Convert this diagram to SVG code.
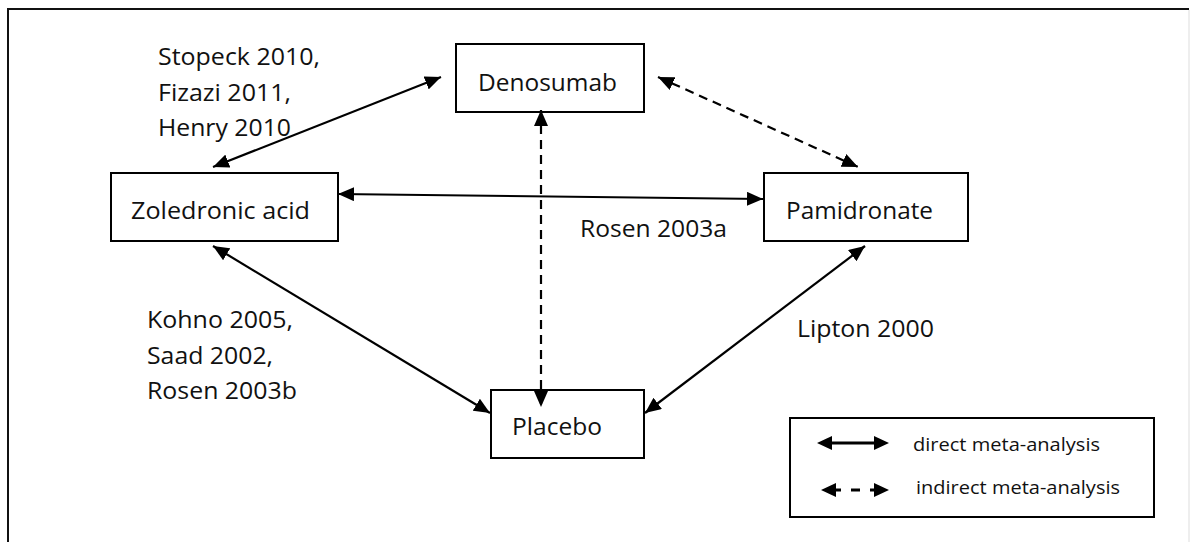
<svg xmlns="http://www.w3.org/2000/svg" width="1190" height="542" viewBox="0 0 1190 542">
<style>
.box{fill:#fff;stroke:#000;stroke-width:2}
.t{font-family:"Open Sans","Noto Sans","Liberation Sans",sans-serif;font-size:24px;fill:#111}
.lg{font-family:"Open Sans","Noto Sans","Liberation Sans",sans-serif;font-size:19px;fill:#111}
.c{fill:none;stroke:#000;stroke-width:2.2}
.d{stroke-dasharray:9 6}
</style>
<defs>
<marker id="ah" viewBox="0 0 16 14" refX="16" refY="7" markerWidth="16" markerHeight="14" markerUnits="userSpaceOnUse" orient="auto-start-reverse">
<path d="M0,0 L16,7 L0,14 z" fill="#000" stroke="none"/>
</marker>
</defs>
<rect width="1190" height="542" fill="#fff"/>
<g id="frame">
<line x1="8" y1="9" x2="1189" y2="9" stroke="#111" stroke-width="2"/>
<line x1="8" y1="8" x2="8" y2="542" stroke="#111" stroke-width="2"/>
<line x1="1189" y1="10" x2="1189" y2="542" stroke="#ddd" stroke-width="1"/>
</g>
<g id="denosumab">
<rect class="box" x="456" y="44" width="188" height="68"/>
<text class="t" x="478" y="91" textLength="139" lengthAdjust="spacingAndGlyphs">Denosumab</text>
</g>
<g id="zoledronic">
<rect class="box" x="111" y="173" width="227" height="68"/>
<text class="t" x="131" y="219" textLength="179" lengthAdjust="spacingAndGlyphs">Zoledronic acid</text>
</g>
<g id="pamidronate">
<rect class="box" x="764" y="173" width="204" height="68"/>
<text class="t" x="786" y="219" textLength="147" lengthAdjust="spacingAndGlyphs">Pamidronate</text>
</g>
<g id="placebo">
<rect class="box" x="491" y="390" width="153" height="68"/>
<text class="t" x="512" y="435" textLength="90" lengthAdjust="spacingAndGlyphs">Placebo</text>
</g>
<g id="connectors">
<line class="c" x1="213" y1="167" x2="441" y2="77" marker-start="url(#ah)" marker-end="url(#ah)"/>
<line class="c" x1="338" y1="194" x2="763" y2="199" marker-start="url(#ah)" marker-end="url(#ah)"/>
<line class="c" x1="213" y1="246" x2="490" y2="413" marker-start="url(#ah)" marker-end="url(#ah)"/>
<line class="c" x1="865" y1="246" x2="645" y2="413" marker-start="url(#ah)" marker-end="url(#ah)"/>
<line class="c d" x1="541" y1="110" x2="541" y2="407" marker-start="url(#ah)" marker-end="url(#ah)"/>
<line class="c d" x1="658" y1="77" x2="858" y2="167" marker-start="url(#ah)" marker-end="url(#ah)"/>
</g>
<g id="labels">
<text class="t" x="158" y="65" textLength="162" lengthAdjust="spacingAndGlyphs">Stopeck 2010,</text>
<text class="t" x="158" y="100.5" textLength="133" lengthAdjust="spacingAndGlyphs">Fizazi 2011,</text>
<text class="t" x="158" y="136" textLength="133" lengthAdjust="spacingAndGlyphs">Henry 2010</text>
<text class="t" x="580" y="237" textLength="147" lengthAdjust="spacingAndGlyphs">Rosen 2003a</text>
<text class="t" x="147" y="328" textLength="146" lengthAdjust="spacingAndGlyphs">Kohno 2005,</text>
<text class="t" x="147" y="364" textLength="126" lengthAdjust="spacingAndGlyphs">Saad 2002,</text>
<text class="t" x="147" y="399" textLength="150" lengthAdjust="spacingAndGlyphs">Rosen 2003b</text>
<text class="t" x="797" y="337" textLength="137" lengthAdjust="spacingAndGlyphs">Lipton 2000</text>
</g>
<g id="legend">
<rect x="790" y="418" width="364" height="99" fill="#fff" stroke="#000" stroke-width="2"/>
<line x1="831" y1="443" x2="875" y2="443" stroke="#000" stroke-width="3"/>
<polygon points="817,443 832,436 832,450" fill="#000"/>
<polygon points="889,443 874,436 874,450" fill="#000"/>
<text class="lg" x="913" y="451" textLength="187" lengthAdjust="spacingAndGlyphs">direct meta-analysis</text>
<polygon points="821,490 836,483 836,497" fill="#000"/>
<line x1="835" y1="490" x2="841" y2="490" stroke="#000" stroke-width="3"/>
<line x1="851" y1="490" x2="860" y2="490" stroke="#000" stroke-width="3"/>
<line x1="870" y1="490" x2="876" y2="490" stroke="#000" stroke-width="3"/>
<polygon points="889,490 874,483 874,497" fill="#000"/>
<text class="lg" x="916" y="494" textLength="204" lengthAdjust="spacingAndGlyphs">indirect meta-analysis</text>
</g>
</svg>
